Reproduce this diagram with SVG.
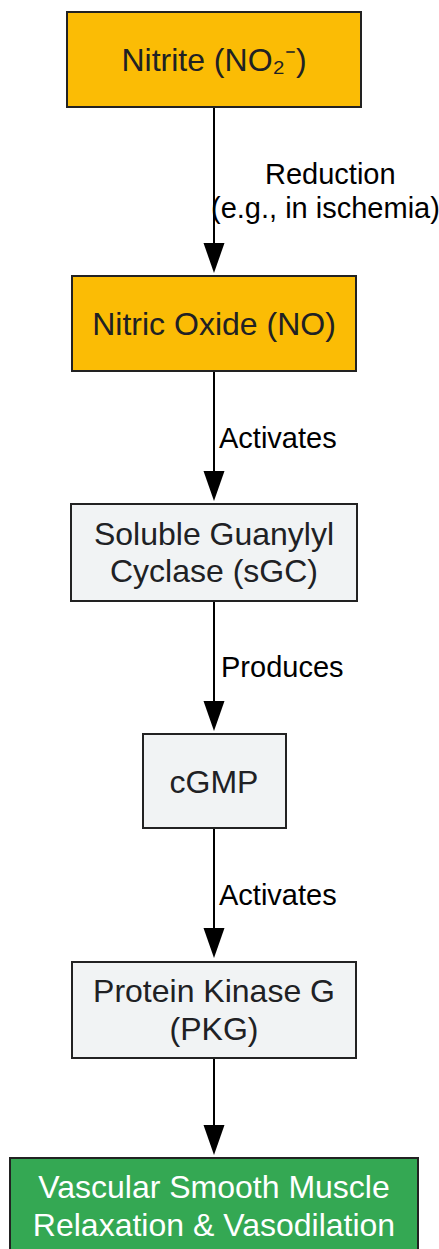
<svg xmlns="http://www.w3.org/2000/svg" width="439" height="1249" viewBox="0 0 439 1249">
<style>
.n{stroke:#222;stroke-width:2}
.y{fill:#FBBC05}
.g{fill:#F1F3F4}
.gr{fill:#34A853}
.t{font-family:"Liberation Sans",Arial,sans-serif;font-size:32px;fill:#202124;text-anchor:middle}
.tw{fill:#fff}
.l{font-family:"Liberation Sans",Arial,sans-serif;font-size:29px;fill:#000}
.e{stroke:#000;stroke-width:2;fill:none}
.h{fill:#000}
</style>
<rect width="439" height="1249" fill="#fff"/>
<g id="connectors">
<line class="e" x1="214" y1="108" x2="214" y2="245"/>
<polygon class="h" points="203.5,243 224.5,243 214,273"/>
<text class="l" x="265" y="184">Reduction</text>
<text class="l" x="211" y="218">(e.g., in ischemia)</text>
<line class="e" x1="214" y1="372" x2="214" y2="473"/>
<polygon class="h" points="203.5,471 224.5,471 214,501"/>
<text class="l" x="219" y="448">Activates</text>
<line class="e" x1="214" y1="602" x2="214" y2="703"/>
<polygon class="h" points="203.5,701 224.5,701 214,731"/>
<text class="l" x="221" y="677">Produces</text>
<line class="e" x1="214" y1="829" x2="214" y2="930"/>
<polygon class="h" points="203.5,928 224.5,928 214,958"/>
<text class="l" x="219" y="905">Activates</text>
<line class="e" x1="214" y1="1059" x2="214" y2="1127"/>
<polygon class="h" points="203.5,1125 224.5,1125 214,1155"/>
</g>
<g id="nitrite">
<rect class="n y" x="67" y="12" width="294" height="95"/>
<text class="t" x="214" y="71">Nitrite (NO₂⁻)</text>
</g>
<g id="no">
<rect class="n y" x="72" y="276" width="284" height="95"/>
<text class="t" x="214" y="335">Nitric Oxide (NO)</text>
</g>
<g id="sgc">
<rect class="n g" x="71" y="504" width="286" height="97"/>
<text class="t" x="214" y="545">Soluble Guanylyl</text>
<text class="t" x="214" y="582">Cyclase (sGC)</text>
</g>
<g id="cgmp">
<rect class="n g" x="143" y="734" width="143" height="94"/>
<text class="t" x="214" y="793">cGMP</text>
</g>
<g id="pkg">
<rect class="n g" x="72" y="962" width="284" height="96"/>
<text class="t" x="214" y="1002">Protein Kinase G</text>
<text class="t" x="214" y="1040">(PKG)</text>
</g>
<g id="vsm">
<rect class="n gr" x="10" y="1158" width="408" height="100"/>
<text class="t tw" x="214" y="1198">Vascular Smooth Muscle</text>
<text class="t tw" x="214" y="1236">Relaxation &amp; Vasodilation</text>
</g>
</svg>
